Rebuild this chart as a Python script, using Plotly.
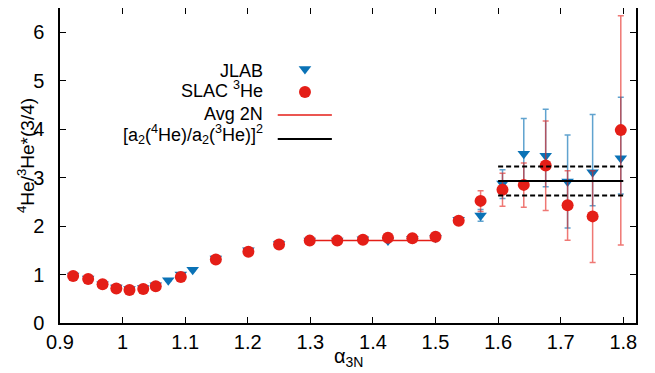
import plotly.graph_objects as go

# ---------------- data ----------------
jlab_x = [0.921, 0.945, 0.968, 0.990, 1.011, 1.033, 1.053, 1.073, 1.093, 1.112,
          1.149, 1.201, 1.250, 1.299, 1.343, 1.384, 1.424, 1.463, 1.500, 1.537,
          1.572, 1.607, 1.641, 1.676, 1.711, 1.751, 1.796]
jlab_y = [0.98, 0.92, 0.80, 0.73, 0.70, 0.72, 0.78, 0.88, 1.00, 1.10,
          1.33, 1.50, 1.63, 1.70, 1.70, 1.73, 1.70, 1.74, 1.76, 2.13,
          2.22, 2.88, 3.49, 3.45, 2.92, 3.11, 3.40]
jlab_err_plus = [0.02, 0.02, 0.02, 0.02, 0.02, 0.02, 0.02, 0.02, 0.02, 0.02,
                 0.03, 0.03, 0.03, 0.03, 0.03, 0.03, 0.03, 0.03, 0.03, 0.05,
                 0.12, 0.28, 0.73, 0.96, 0.96, 1.19, 1.26]
jlab_err_minus = [0.02, 0.02, 0.02, 0.02, 0.02, 0.02, 0.02, 0.02, 0.02, 0.02,
                  0.03, 0.03, 0.03, 0.03, 0.03, 0.03, 0.03, 0.03, 0.03, 0.05,
                  0.12, 0.31, 0.73, 0.64, 0.96, 0.69, 0.74]

slac_x = [0.921, 0.945, 0.968, 0.990, 1.011, 1.033, 1.053, 1.093, 1.149, 1.201,
          1.250, 1.299, 1.343, 1.384, 1.424, 1.463, 1.500, 1.537, 1.572, 1.607,
          1.641, 1.676, 1.711, 1.751, 1.796]
slac_y = [0.97, 0.91, 0.80, 0.71, 0.68, 0.70, 0.76, 0.95, 1.31, 1.47,
          1.62, 1.70, 1.70, 1.72, 1.76, 1.75, 1.78, 2.11, 2.52, 2.75,
          2.85, 3.25, 2.43, 2.20, 3.98]
slac_err_plus = [0.02, 0.02, 0.02, 0.02, 0.02, 0.02, 0.02, 0.02, 0.03, 0.03,
                 0.03, 0.03, 0.03, 0.03, 0.03, 0.03, 0.03, 0.06, 0.21, 0.34,
                 0.45, 0.92, 0.71, 0.94, 2.36]
slac_err_minus = [0.02, 0.02, 0.02, 0.02, 0.02, 0.02, 0.02, 0.02, 0.03, 0.03,
                  0.03, 0.03, 0.03, 0.03, 0.03, 0.03, 0.03, 0.06, 0.22, 0.34,
                  0.46, 0.93, 0.72, 0.95, 2.37]

avg2n_x = [1.3, 1.5]
avg2n_y = [1.70, 1.70]

a2_x = [1.6, 1.8]
a2_val = 2.93
a2_hi = 3.23
a2_lo = 2.63

x_ticks = [0.9, 1.0, 1.1, 1.2, 1.3, 1.4, 1.5, 1.6, 1.7, 1.8]
x_ticktext = ["0.9", "1", "1.1", "1.2", "1.3", "1.4", "1.5", "1.6", "1.7", "1.8"]
y_ticks = [0, 1, 2, 3, 4, 5, 6]

legend_labels = ["JLAB", "SLAC <sup>3</sup>He", "Avg 2N",
                 "[a<sub>2</sub>(<sup>4</sup>He)/a<sub>2</sub>(<sup>3</sup>He)]<sup>2</sup>"]

# ---------------- style ----------------
BLUE = "#0a72b6"
RED = "#e41e17"
FONT = "Liberation Sans, Arial, Helvetica, sans-serif"

fig = go.Figure()

fig.add_trace(go.Scatter(
    x=jlab_x, y=jlab_y, mode="markers",
    marker=dict(symbol="triangle-down", size=11, color=BLUE),
    error_y=dict(type="data", symmetric=False, array=jlab_err_plus,
                 arrayminus=jlab_err_minus, color="rgba(10,114,182,0.65)",
                 thickness=1.5, width=3),
    showlegend=False))

fig.add_trace(go.Scatter(
    x=avg2n_x, y=avg2n_y, mode="lines",
    line=dict(color=RED, width=1.5), showlegend=False))

fig.add_trace(go.Scatter(
    x=slac_x, y=slac_y, mode="markers",
    marker=dict(symbol="circle", size=12, color=RED),
    error_y=dict(type="data", symmetric=False, array=slac_err_plus,
                 arrayminus=slac_err_minus, color="rgba(228,30,23,0.6)",
                 thickness=1.5, width=3),
    showlegend=False))

fig.add_trace(go.Scatter(
    x=a2_x, y=[a2_val, a2_val], mode="lines",
    line=dict(color="black", width=2), showlegend=False))
fig.add_trace(go.Scatter(
    x=a2_x, y=[a2_hi, a2_hi], mode="lines",
    line=dict(color="black", width=2, dash="5px,3px"), showlegend=False))
fig.add_trace(go.Scatter(
    x=a2_x, y=[a2_lo, a2_lo], mode="lines",
    line=dict(color="black", width=2, dash="5px,3px"), showlegend=False))

# ---- legend samples on hidden overlay axes ----
leg_sym_x = 0.4253
fig.add_trace(go.Scatter(x=[leg_sym_x], y=[0.806], mode="markers",
                         marker=dict(symbol="triangle-down", size=11, color=BLUE),
                         xaxis="x2", yaxis="y2", showlegend=False, hoverinfo="skip"))
fig.add_trace(go.Scatter(x=[leg_sym_x], y=[0.733], mode="markers",
                         marker=dict(symbol="circle", size=12, color=RED),
                         xaxis="x2", yaxis="y2", showlegend=False, hoverinfo="skip"))
fig.add_trace(go.Scatter(x=[0.378, 0.472], y=[0.660, 0.660], mode="lines",
                         line=dict(color=RED, width=1.5),
                         xaxis="x2", yaxis="y2", showlegend=False, hoverinfo="skip"))
fig.add_trace(go.Scatter(x=[0.378, 0.472], y=[0.584, 0.584], mode="lines",
                         line=dict(color="black", width=2),
                         xaxis="x2", yaxis="y2", showlegend=False, hoverinfo="skip"))

leg_text_y = [0.800, 0.742, 0.665, 0.598]
annotations = []
for lab, yy in zip(legend_labels, leg_text_y):
    annotations.append(dict(text=lab, x=0.356, y=yy, xref="paper", yref="paper",
                            xanchor="right", yanchor="middle", showarrow=False,
                            font=dict(size=18, color="black", family=FONT)))

annotations.append(dict(text="<sup>4</sup>He/<sup>3</sup>He*(3/4)", textangle=-90,
                        x=-0.059, y=0.53, xref="paper", yref="paper",
                        xanchor="center", yanchor="middle", showarrow=False,
                        font=dict(size=19, color="black", family=FONT)))
annotations.append(dict(text="α<sub>3N</sub>",
                        x=0.5, y=-0.108, xref="paper", yref="paper",
                        xanchor="center", yanchor="middle", showarrow=False,
                        font=dict(size=20, color="black", family=FONT)))

axis_common = dict(showline=True, linecolor="black", linewidth=1.5, mirror="ticks",
                   ticks="inside", ticklen=6, tickcolor="black", tickwidth=1,
                   showgrid=False, zeroline=False, automargin=False,
                   tickfont=dict(size=20, color="black", family=FONT))

# the html page adds an 8px body margin, so the figure is offset by 8px
fig.update_layout(
    width=647, height=365,
    margin=dict(l=52, r=19, t=0, b=50),
    paper_bgcolor="white", plot_bgcolor="white",
    showlegend=False,
    xaxis=dict(range=[0.9, 1.8203], tickvals=x_ticks, ticktext=x_ticktext,
               ticklabelstandoff=0, **axis_common),
    yaxis=dict(range=[0, 6.5], tickvals=y_ticks, ticklabelstandoff=10, **axis_common),
    xaxis2=dict(range=[0, 1], overlaying="x", anchor="y2", visible=False),
    yaxis2=dict(range=[0, 1], overlaying="y", anchor="x2", visible=False),
    annotations=annotations,
)

fig.write_html("out.html")
